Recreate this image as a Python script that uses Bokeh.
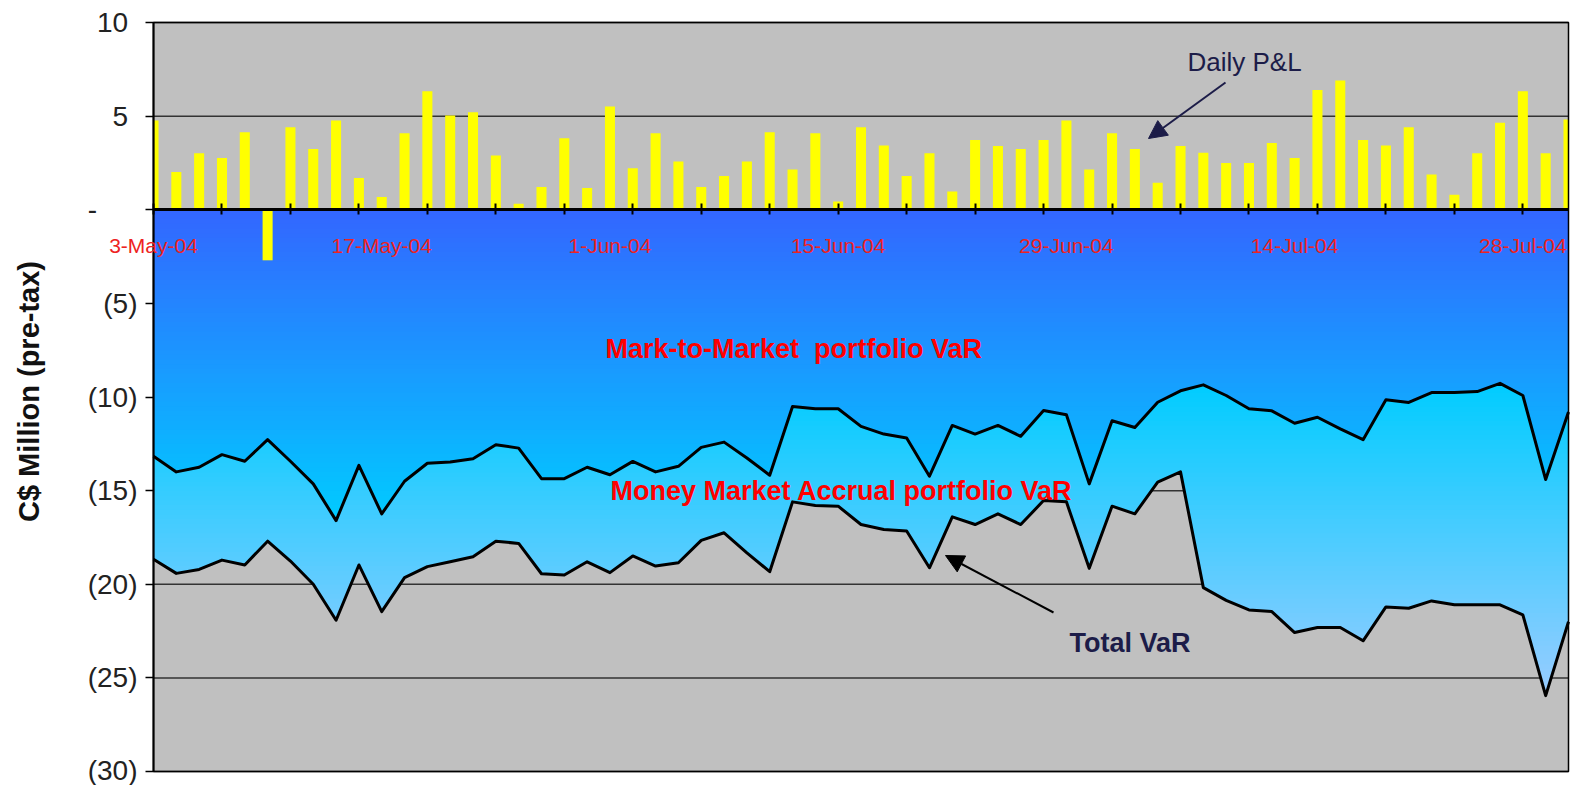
import numpy as np
from bokeh.plotting import figure
from bokeh.models import Range1d, FixedTicker, LinearAxis, Label, Arrow, NormalHead
from bokeh.embed import file_html
from bokeh.resources import INLINE

# ---------------- data ----------------
dates = ["3-May-04", "4-May-04", "5-May-04", "6-May-04", "7-May-04",
         "10-May-04", "11-May-04", "12-May-04", "13-May-04", "14-May-04",
         "17-May-04", "18-May-04", "19-May-04", "20-May-04", "21-May-04",
         "25-May-04", "26-May-04", "27-May-04", "28-May-04", "31-May-04",
         "1-Jun-04", "2-Jun-04", "3-Jun-04", "4-Jun-04", "7-Jun-04",
         "8-Jun-04", "9-Jun-04", "10-Jun-04", "11-Jun-04", "14-Jun-04",
         "15-Jun-04", "16-Jun-04", "17-Jun-04", "18-Jun-04", "21-Jun-04",
         "22-Jun-04", "23-Jun-04", "24-Jun-04", "25-Jun-04", "28-Jun-04",
         "29-Jun-04", "30-Jun-04", "2-Jul-04", "5-Jul-04", "6-Jul-04",
         "7-Jul-04", "8-Jul-04", "9-Jul-04", "12-Jul-04", "13-Jul-04",
         "14-Jul-04", "15-Jul-04", "16-Jul-04", "19-Jul-04", "20-Jul-04",
         "21-Jul-04", "22-Jul-04", "23-Jul-04", "26-Jul-04", "27-Jul-04",
         "28-Jul-04", "29-Jul-04", "30-Jul-04"]

daily_pnl = [4.76, 2.01, 3.02, 2.77, 4.14, -2.70, 4.41, 3.25, 4.76, 1.69,
             0.68, 4.09, 6.33, 5.03, 5.21, 2.90, 0.32, 1.21, 3.82, 1.16,
             5.51, 2.22, 4.09, 2.58, 1.21, 1.80, 2.58, 4.14, 2.15, 4.09,
             0.44, 4.41, 3.43, 1.80, 3.02, 0.98, 3.73, 3.40, 3.25, 3.72,
             4.76, 2.15, 4.09, 3.25, 1.44, 3.40, 3.04, 2.49, 2.49, 3.57,
             2.77, 6.40, 6.90, 3.73, 3.43, 4.41, 1.88, 0.80, 3.02, 4.64,
             6.33, 3.02, 4.82]

mtm_var = [-13.17, -14.00, -13.75, -13.08, -13.43, -12.28, -13.43, -14.64, -16.60, -13.65,
           -16.24, -14.50, -13.54, -13.47, -13.30, -12.55, -12.73, -14.36, -14.36, -13.75,
           -14.15, -13.44, -14.00, -13.70, -12.69, -12.41, -13.26, -14.18, -10.51, -10.63,
           -10.63, -11.57, -11.98, -12.19, -14.23, -11.52, -11.98, -11.52, -12.10, -10.72,
           -10.95, -14.64, -11.27, -11.63, -10.28, -9.67, -9.35, -9.92, -10.63, -10.74,
           -11.40, -11.08, -11.70, -12.28, -10.15, -10.29, -9.76, -9.76, -9.71, -9.27,
           -9.92, -14.41, -10.80]

total_var = [-18.67, -19.42, -19.21, -18.71, -18.97, -17.70, -18.76, -20.00, -21.92, -18.97,
             -21.46, -19.65, -19.06, -18.80, -18.53, -17.70, -17.82, -19.44, -19.51, -18.80,
             -19.38, -18.49, -19.03, -18.85, -17.66, -17.25, -18.32, -19.33, -15.60, -15.80,
             -15.83, -16.81, -17.08, -17.16, -19.12, -16.40, -16.81, -16.24, -16.81, -15.53,
             -15.60, -19.15, -15.83, -16.24, -14.54, -14.00, -20.18, -20.86, -21.37, -21.46,
             -22.58, -22.31, -22.31, -23.02, -21.21, -21.28, -20.89, -21.10, -21.10, -21.10,
             -21.64, -25.95, -22.00]

y_ticks = [10, 5, 0, -5, -10, -15, -20, -25, -30]
y_tick_labels = ["10\u2004", "5\u2004", "-\u2007\u2007\u2004", "(5)", "(10)",
                 "(15)", "(20)", "(25)", "(30)"]
y_title = "C$ Million (pre-tax)"

FONT = "Liberation Sans"

# ---------------- layout geometry (pixels) ----------------
W, H = 1570, 785
PL, PR, PT, PB = 153, 1568, 22, 771          # plot-area edges on the page
n = len(dates)
x_lo_v, x_hi_v = 0, n - 1
y_lo_v, y_hi_v = y_ticks[-1], y_ticks[0]
sx = (PR - PL) / (x_hi_v - x_lo_v)
sy = (PB - PT) / (y_hi_v - y_lo_v)


def dx(px):
    return x_lo_v + (px - PL) / sx


def dy(py):
    return y_hi_v - (py - PT) / sy


xs = np.arange(n, dtype=float)

# the frame covers the whole canvas so that axis texts are never clipped
p = figure(width=W, height=H,
           x_range=Range1d(dx(0), dx(W)), y_range=Range1d(dy(H), dy(0)),
           output_backend="svg", toolbar_location=None,
           x_axis_location=None, y_axis_location=None,
           min_border_left=0, min_border_right=0, min_border_top=0, min_border_bottom=0)
p.background_fill_color = "white"
p.border_fill_color = "white"
p.outline_line_color = None
for g in p.grid:
    g.visible = False

# plot-area background and horizontal gridlines
p.quad(left=x_lo_v, right=x_hi_v, bottom=y_lo_v, top=y_hi_v,
       fill_color="#C0C0C0", line_color=None)
p.segment(x0=[x_lo_v] * len(y_ticks), x1=[x_hi_v] * len(y_ticks), y0=y_ticks, y1=y_ticks,
          line_color="#333333", line_width=1.5)

# ---------------- gradient-filled VaR areas ----------------
def crossings(ys, level):
    res = []
    for i in range(len(ys) - 1):
        d0 = ys[i] - level
        d1 = ys[i + 1] - level
        if d0 * d1 < 0:
            res.append(xs[i] + d0 / (d0 - d1))
    return res


def mix(c0, c1, f):
    f = min(max(f, 0.0), 1.0)
    return "#%02x%02x%02x" % tuple(int(round(a + (b - a) * f)) for a, b in zip(c0, c1))


def strips(top, bot, y_hi, y_lo, c_hi, c_lo, step=0.25, eps=0.06):
    px_, py_, pc_ = [], [], []
    k_max = int(np.ceil((y_hi - y_lo) / step))
    for k in range(k_max):
        a = y_hi - k * step
        b = max(y_hi - (k + 1) * step, y_lo) - eps
        pts = set(xs.tolist())
        for arr in (top, bot):
            for lev in (a, b):
                pts.update(crossings(arr, lev))
        xx = np.array(sorted(pts))
        t = np.clip(np.interp(xx, xs, top), b, a)
        bb = np.clip(np.interp(xx, xs, bot), b, a)
        f = ((a + b + eps) / 2 - y_hi) / (y_lo - y_hi)
        px_.append(list(xx) + list(xx[::-1]))
        py_.append(list(t) + list(bb[::-1]))
        pc_.append(mix(c_hi, c_lo, f))
    return px_, py_, pc_


up = np.array(mtm_var)
lo = np.array(total_var)
zero = np.zeros(n)

mx, my, mc = strips(zero, up, 0.0, float(up.min()), (51, 102, 255), (0, 204, 255))
ax_, ay_, ac_ = strips(up, lo, float(up.max()), float(lo.min()), (0, 204, 255), (153, 204, 255))

p.patches(xs=mx, ys=my, fill_color=mc, line_color=None)
p.patches(xs=ax_, ys=ay_, fill_color=ac_, line_color=None)

# ---------------- daily P&L bars (clipped to plot area by range of x) ----------------
bar_w = 0.44
bl = np.clip(xs - bar_w / 2, x_lo_v, x_hi_v)
br = np.clip(xs + bar_w / 2, x_lo_v, x_hi_v)
p.quad(left=bl, right=br, bottom=0, top=daily_pnl, fill_color="#FFFF00", line_color=None)

# ---------------- VaR lines ----------------
p.line(xs, mtm_var, line_color="black", line_width=3, line_join="round")
p.line(xs, total_var, line_color="black", line_width=3, line_join="round")

# plot-area border (right side; left is the y axis line)
p.quad(left=x_lo_v, right=x_hi_v, bottom=y_lo_v, top=y_hi_v,
       fill_color=None, line_color="black", line_width=1.5)

# ---------------- y axis at x = 0 ----------------
yax = LinearAxis(fixed_location=x_lo_v, bounds=(y_lo_v, y_hi_v),
                 ticker=FixedTicker(ticks=y_ticks),
                 major_label_overrides=dict(zip(y_ticks, y_tick_labels)))
yax.major_label_text_font = FONT
yax.major_label_text_font_size = "28px"
yax.major_label_text_color = "#222222"
yax.major_tick_out = 8
yax.major_tick_in = 0
yax.minor_tick_out = 0
yax.minor_tick_in = 0
yax.major_tick_line_width = 1.5
yax.axis_line_width = 2
yax.axis_line_color = "black"
yax.major_label_standoff = 8
p.add_layout(yax, "left")

p.add_layout(Label(x=dx(28), y=dy(391), text=y_title, angle=np.pi / 2,
                   text_font=FONT, text_font_size="29px", text_font_style="bold",
                   text_color="#111111", text_align="center", text_baseline="middle"))

# ---------------- category axis at zero ----------------
label_idx = list(range(0, n, 10))
xax = LinearAxis(fixed_location=0, bounds=(x_lo_v, x_hi_v),
                 ticker=FixedTicker(ticks=[], minor_ticks=list(range(0, n, 3))))
xax.axis_line_width = 3
xax.axis_line_color = "black"
xax.major_tick_in = 0
xax.major_tick_out = 0
xax.minor_tick_in = 6
xax.minor_tick_out = 5
xax.minor_tick_line_width = 2
xax.minor_tick_line_color = "black"
p.add_layout(xax, "below")

for i in label_idx:
    p.add_layout(Label(x=i, y=dy(245), text=dates[i], text_font=FONT,
                       text_font_size="21px", text_color="#EE2222",
                       text_align="center", text_baseline="middle"))

# ---------------- annotations ----------------
NAVY = "#1C1C48"
p.add_layout(Label(x=dx(1187), y=dy(61), text="Daily P&L", text_font=FONT,
                   text_font_size="26px", text_color=NAVY, text_baseline="alphabetic"))
p.add_layout(Arrow(x_start=dx(1225), y_start=dy(82), x_end=dx(1148), y_end=dy(138),
                   line_color=NAVY, line_width=2,
                   end=NormalHead(size=18, fill_color=NAVY, line_color=NAVY)))

p.add_layout(Label(x=dx(605), y=dy(348), text="Mark-to-Market\u00a0 portfolio VaR", text_font=FONT,
                   text_font_size="27px", text_font_style="bold", text_color="#FF0000",
                   text_baseline="alphabetic"))
p.add_layout(Label(x=dx(610), y=dy(490), text="Money Market Accrual portfolio VaR", text_font=FONT,
                   text_font_size="27px", text_font_style="bold", text_color="#FF0000",
                   text_baseline="alphabetic"))
p.add_layout(Label(x=dx(1069), y=dy(642), text="Total VaR", text_font=FONT,
                   text_font_size="27px", text_font_style="bold", text_color=NAVY,
                   text_baseline="alphabetic"))
p.add_layout(Arrow(x_start=dx(1053), y_start=dy(612), x_end=dx(945), y_end=dy(555),
                   line_color="black", line_width=2,
                   end=NormalHead(size=18, fill_color="black", line_color="black")))

open("out.html", "w").write(file_html(p, INLINE))
